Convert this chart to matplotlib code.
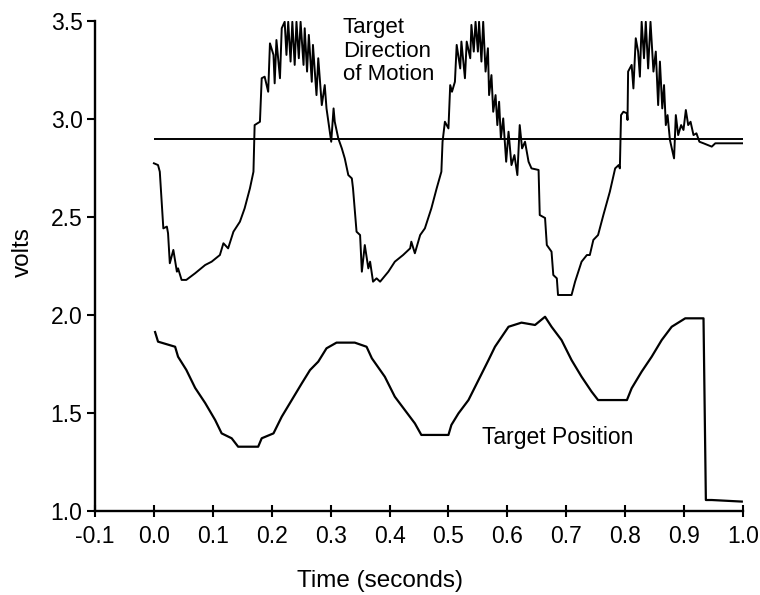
import matplotlib.pyplot as plt

plt.rcParams['font.family'] = ['Liberation Sans', 'DejaVu Sans']

# target direction of motion (volts)
t_dir = [0.000, 0.007, 0.010, 0.016, 0.022, 0.024, 0.027, 0.033, 0.039, 0.041,
         0.047, 0.055, 0.070, 0.087, 0.098, 0.112, 0.118, 0.126, 0.135, 0.146,
         0.154, 0.163, 0.169, 0.171, 0.180, 0.183, 0.188, 0.194, 0.197, 0.203,
         0.205, 0.208, 0.214, 0.217, 0.222, 0.225, 0.228, 0.232, 0.235, 0.239,
         0.242, 0.246, 0.249, 0.254, 0.256, 0.260, 0.263, 0.268, 0.270, 0.276,
         0.279, 0.285, 0.290, 0.293, 0.301, 0.305, 0.307, 0.313, 0.319, 0.324,
         0.330, 0.336, 0.338, 0.344, 0.350, 0.353, 0.358, 0.364, 0.367, 0.372,
         0.378, 0.384, 0.398, 0.409, 0.423, 0.435, 0.437, 0.443, 0.452, 0.460,
         0.471, 0.480, 0.488, 0.490, 0.494, 0.500, 0.503, 0.506, 0.511, 0.514,
         0.520, 0.522, 0.528, 0.531, 0.537, 0.539, 0.543, 0.546, 0.550, 0.552,
         0.556, 0.559, 0.563, 0.567, 0.569, 0.573, 0.576, 0.580, 0.583, 0.586,
         0.589, 0.593, 0.598, 0.602, 0.607, 0.612, 0.617, 0.621, 0.625, 0.630,
         0.636, 0.641, 0.653, 0.655, 0.664, 0.667, 0.675, 0.678, 0.684, 0.686,
         0.709, 0.715, 0.726, 0.735, 0.740, 0.746, 0.754, 0.763, 0.774, 0.783,
         0.789, 0.791, 0.793, 0.797, 0.803, 0.804, 0.805, 0.811, 0.814, 0.818,
         0.822, 0.825, 0.828, 0.832, 0.835, 0.839, 0.843, 0.848, 0.852, 0.856,
         0.859, 0.863, 0.866, 0.869, 0.872, 0.876, 0.883, 0.886, 0.890, 0.895,
         0.899, 0.903, 0.907, 0.911, 0.916, 0.921, 0.926, 0.933, 0.947, 0.953,
         0.964, 0.975, 1.000]
v_dir = [2.774, 2.765, 2.731, 2.442, 2.451, 2.417, 2.264, 2.332, 2.221, 2.238,
         2.179, 2.179, 2.213, 2.255, 2.272, 2.306, 2.366, 2.340, 2.425, 2.476,
         2.544, 2.646, 2.731, 2.969, 2.986, 3.208, 3.216, 3.139, 3.386, 3.327,
         3.182, 3.403, 3.208, 3.463, 3.496, 3.327, 3.496, 3.293, 3.496, 3.276,
         3.496, 3.310, 3.496, 3.276, 3.463, 3.242, 3.429, 3.190, 3.378, 3.122,
         3.310, 3.071, 3.173, 3.054, 2.884, 3.054, 2.986, 2.901, 2.850, 2.799,
         2.714, 2.697, 2.646, 2.425, 2.408, 2.221, 2.357, 2.238, 2.272, 2.170,
         2.187, 2.170, 2.221, 2.272, 2.306, 2.340, 2.374, 2.315, 2.408, 2.442,
         2.544, 2.646, 2.731, 2.884, 2.986, 2.952, 3.173, 3.139, 3.190, 3.378,
         3.258, 3.395, 3.208, 3.395, 3.310, 3.480, 3.344, 3.496, 3.344, 3.496,
         3.293, 3.496, 3.242, 3.361, 3.122, 3.224, 3.037, 3.122, 2.969, 3.088,
         2.901, 3.003, 2.782, 2.935, 2.765, 2.816, 2.714, 2.969, 2.850, 2.884,
         2.782, 2.748, 2.740, 2.510, 2.495, 2.357, 2.323, 2.204, 2.187, 2.102,
         2.102, 2.170, 2.272, 2.306, 2.306, 2.383, 2.408, 2.510, 2.629, 2.748,
         2.765, 2.748, 3.020, 3.037, 3.029, 2.995, 3.242, 3.276, 3.156, 3.412,
         3.344, 3.216, 3.496, 3.310, 3.496, 3.258, 3.496, 3.242, 3.344, 3.071,
         3.293, 3.054, 3.173, 2.969, 3.020, 2.893, 2.799, 3.020, 2.918, 2.969,
         2.944, 3.046, 2.969, 2.986, 2.918, 2.927, 2.884, 2.876, 2.859, 2.876,
         2.876, 2.876, 2.876]

# target position (volts)
t_pos = [0.002, 0.007, 0.036, 0.041, 0.055, 0.070, 0.087, 0.104, 0.115, 0.132,
         0.143, 0.177, 0.183, 0.203, 0.217, 0.234, 0.251, 0.265, 0.279, 0.293,
         0.310, 0.341, 0.361, 0.370, 0.392, 0.409, 0.426, 0.443, 0.454, 0.500,
         0.505, 0.517, 0.534, 0.551, 0.568, 0.579, 0.602, 0.624, 0.647, 0.664,
         0.675, 0.692, 0.709, 0.726, 0.743, 0.754, 0.803, 0.811, 0.828, 0.845,
         0.862, 0.879, 0.902, 0.933, 0.937, 0.947, 0.998]
v_pos = [1.913, 1.864, 1.838, 1.787, 1.720, 1.628, 1.551, 1.464, 1.396, 1.371,
         1.328, 1.328, 1.371, 1.396, 1.481, 1.566, 1.651, 1.719, 1.762, 1.830,
         1.859, 1.859, 1.838, 1.779, 1.685, 1.583, 1.515, 1.447, 1.388, 1.388,
         1.439, 1.498, 1.566, 1.668, 1.770, 1.838, 1.940, 1.961, 1.949, 1.991,
         1.940, 1.872, 1.770, 1.685, 1.609, 1.566, 1.566, 1.626, 1.711, 1.787,
         1.872, 1.940, 1.983, 1.983, 1.056, 1.056, 1.048]

ref_level = 2.9
x_ticks = [-0.1, 0.0, 0.1, 0.2, 0.3, 0.4, 0.5, 0.6, 0.7, 0.8, 0.9, 1.0]
y_ticks = [1.0, 1.5, 2.0, 2.5, 3.0, 3.5]

fig = plt.figure(figsize=(7.6, 5.95), dpi=100)
ax = fig.add_axes([0.125, 0.1412, 0.8526, 0.8235])

ax.plot(t_dir, v_dir, color='black', lw=1.4)
ax.plot(t_pos, v_pos, color='black', lw=1.6)
ax.hlines(ref_level, 0.0, 1.0, color='black', lw=1.4)

ax.set_xlim(-0.1, 1.0)
ax.set_ylim(1.0, 3.5)
ax.set_xticks(x_ticks)
ax.set_xticklabels(['%.1f' % x for x in x_ticks])
ax.set_yticks(y_ticks)
ax.set_yticklabels(['%.1f' % y for y in y_ticks])

for s in ['top', 'right']:
    ax.spines[s].set_visible(False)
for s in ['left', 'bottom']:
    ax.spines[s].set_linewidth(1.7)

ax.tick_params(axis='y', direction='out', length=6, width=1.5, pad=3, labelsize=16.5)
ax.tick_params(axis='x', direction='inout', length=8, width=1.5, pad=6, labelsize=16.5)

ax.text(0.321, 3.199, 'Target\nDirection\nof Motion', fontsize=16, ha='left',
        va='baseline', linespacing=1.15, clip_on=False)
ax.text(0.557, 1.342, 'Target Position', fontsize=16.5, ha='left', va='baseline')

fig.text(0.5, 1 - 587 / 595, 'Time (seconds)', fontsize=17.5, ha='center', va='baseline')
fig.text(23 / 760, 1 - 252 / 595, 'volts', fontsize=17.5, rotation=90,
         ha='center', va='center')

fig.savefig('out.png', dpi=100)
